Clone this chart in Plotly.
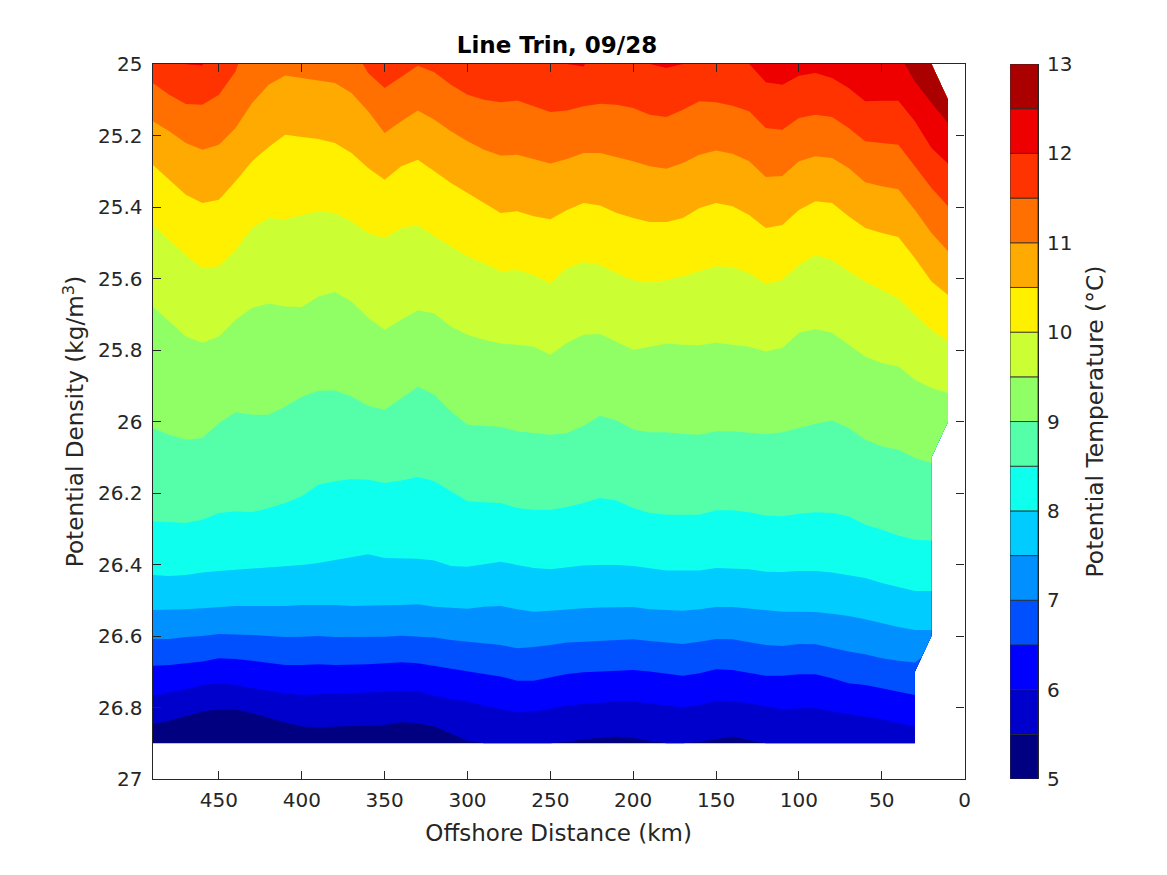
import plotly.graph_objects as go

# stations, km offshore
distance = [490, 480, 470, 460, 450, 440, 430, 420, 410, 400, 390, 380, 370, 360, 350, 340, 330,
            320, 310, 300, 290, 280, 270, 260, 250, 240, 230, 220, 210, 200, 190, 180, 170, 160,
            150, 140, 130, 120, 110, 100, 90, 80, 70, 60, 50, 40, 30, 20, 10]

# isotherm position (potential density) at each station, None = no data there
iso_55 = [26.847, 26.837, 26.824, 26.811, 26.805, 26.805, 26.816, 26.830, 26.842, 26.853, 26.856, 26.853, 26.851, 26.851, 26.849, 26.841, 26.844,
          26.853, 26.874, 26.893, 26.9, 26.9, 26.9, 26.9, 26.9, 26.896, 26.889, 26.885, 26.881, 26.885, 26.893, 26.9, 26.9, 26.896,
          26.889, 26.881, 26.891, 26.9, 26.9, 26.9, 26.9, 26.9, 26.9, 26.9, 26.9, 26.9, 26.9, None, None]
iso_60 = [26.767, 26.758, 26.749, 26.737, 26.732, 26.737, 26.746, 26.754, 26.760, 26.765, 26.763, 26.762, 26.760, 26.758, 26.755, 26.753, 26.755,
          26.767, 26.776, 26.783, 26.795, 26.805, 26.814, 26.811, 26.802, 26.795, 26.790, 26.786, 26.783, 26.783, 26.788, 26.795, 26.799, 26.793,
          26.782, 26.783, 26.788, 26.797, 26.805, 26.802, 26.802, 26.811, 26.819, 26.825, 26.833, 26.844, 26.853, None, None]
iso_65 = [26.683, 26.681, 26.676, 26.671, 26.662, 26.664, 26.669, 26.674, 26.681, 26.681, 26.679, 26.681, 26.681, 26.679, 26.676, 26.673, 26.676,
          26.684, 26.690, 26.698, 26.706, 26.713, 26.725, 26.725, 26.715, 26.706, 26.701, 26.699, 26.695, 26.695, 26.699, 26.706, 26.711, 26.704,
          26.693, 26.695, 26.702, 26.711, 26.711, 26.707, 26.707, 26.718, 26.732, 26.737, 26.746, 26.755, 26.765, None, None]
iso_70 = [26.608, 26.608, 26.603, 26.600, 26.594, 26.595, 26.597, 26.600, 26.603, 26.602, 26.600, 26.603, 26.603, 26.604, 26.602, 26.599, 26.601,
          26.604, 26.611, 26.616, 26.620, 26.625, 26.634, 26.631, 26.625, 26.618, 26.616, 26.614, 26.611, 26.609, 26.614, 26.618, 26.622, 26.616,
          26.608, 26.609, 26.617, 26.625, 26.628, 26.622, 26.623, 26.634, 26.643, 26.651, 26.662, 26.669, 26.674, None, None]
iso_75 = [26.527, 26.527, 26.525, 26.522, 26.518, 26.516, 26.516, 26.516, 26.516, 26.513, 26.513, 26.513, 26.516, 26.516, 26.514, 26.513, 26.511,
          26.518, 26.522, 26.524, 26.518, 26.516, 26.525, 26.532, 26.529, 26.525, 26.522, 26.520, 26.520, 26.519, 26.525, 26.527, 26.529, 26.525,
          26.519, 26.519, 26.524, 26.529, 26.532, 26.532, 26.533, 26.538, 26.544, 26.553, 26.564, 26.575, 26.583, 26.583, None]
iso_80 = [26.429, 26.432, 26.429, 26.422, 26.418, 26.415, 26.410, 26.407, 26.406, 26.401, 26.396, 26.387, 26.380, 26.371, 26.382, 26.384, 26.384,
          26.389, 26.404, 26.406, 26.399, 26.392, 26.401, 26.410, 26.413, 26.407, 26.403, 26.401, 26.401, 26.404, 26.410, 26.417, 26.417, 26.417,
          26.410, 26.412, 26.413, 26.420, 26.421, 26.418, 26.418, 26.422, 26.429, 26.438, 26.452, 26.463, 26.474, 26.474, None]
iso_85 = [26.279, 26.281, 26.284, 26.275, 26.256, 26.251, 26.254, 26.242, 26.228, 26.209, 26.177, 26.167, 26.161, 26.163, 26.172, 26.165, 26.155,
          26.167, 26.195, 26.223, 26.226, 26.228, 26.242, 26.247, 26.247, 26.239, 26.228, 26.214, 26.221, 26.242, 26.256, 26.261, 26.261, 26.261,
          26.248, 26.248, 26.254, 26.263, 26.265, 26.258, 26.254, 26.256, 26.265, 26.289, 26.303, 26.319, 26.331, 26.333, None]
iso_90 = [26.018, 26.037, 26.051, 26.046, 26.004, 25.974, 25.981, 25.981, 25.958, 25.931, 25.914, 25.913, 25.930, 25.956, 25.967, 25.934, 25.903,
          25.925, 25.972, 26.009, 26.012, 26.015, 26.027, 26.032, 26.037, 26.032, 26.012, 25.984, 25.997, 26.023, 26.030, 26.030, 26.035, 26.037,
          26.027, 26.027, 26.032, 26.035, 26.030, 26.018, 26.006, 25.997, 26.018, 26.051, 26.069, 26.079, 26.102, 26.116, None]
iso_95 = [25.678, 25.720, 25.762, 25.780, 25.762, 25.715, 25.682, 25.670, 25.678, 25.680, 25.650, 25.638, 25.664, 25.710, 25.743, 25.715, 25.689,
          25.698, 25.734, 25.757, 25.771, 25.782, 25.785, 25.791, 25.813, 25.780, 25.757, 25.755, 25.778, 25.799, 25.791, 25.782, 25.785, 25.787,
          25.780, 25.785, 25.791, 25.804, 25.794, 25.752, 25.741, 25.752, 25.785, 25.818, 25.836, 25.846, 25.883, 25.906, 25.920]
iso_100 = [25.450, 25.492, 25.534, 25.571, 25.566, 25.520, 25.459, 25.431, 25.434, 25.422, 25.412, 25.417, 25.440, 25.473, 25.487, 25.459, 25.451,
           25.482, 25.510, 25.538, 25.557, 25.580, 25.576, 25.590, 25.613, 25.571, 25.554, 25.562, 25.585, 25.604, 25.611, 25.604, 25.594, 25.580,
           25.566, 25.568, 25.585, 25.615, 25.604, 25.562, 25.535, 25.548, 25.580, 25.608, 25.632, 25.655, 25.701, 25.743, 25.776]
iso_105 = [25.282, 25.324, 25.366, 25.389, 25.380, 25.328, 25.272, 25.232, 25.198, 25.204, 25.210, 25.221, 25.249, 25.291, 25.324, 25.286, 25.268,
           25.300, 25.333, 25.361, 25.389, 25.417, 25.412, 25.426, 25.434, 25.408, 25.389, 25.396, 25.417, 25.431, 25.442, 25.442, 25.431, 25.403,
           25.389, 25.398, 25.422, 25.459, 25.450, 25.408, 25.384, 25.389, 25.426, 25.459, 25.473, 25.484, 25.543, 25.608, 25.646]
iso_110 = [25.160, 25.188, 25.221, 25.240, 25.226, 25.179, 25.109, 25.058, 25.032, 25.039, 25.046, 25.053, 25.081, 25.132, 25.193, 25.160, 25.130,
           25.156, 25.188, 25.216, 25.240, 25.256, 25.254, 25.265, 25.278, 25.266, 25.249, 25.249, 25.260, 25.272, 25.286, 25.293, 25.277, 25.254,
           25.242, 25.251, 25.272, 25.316, 25.313, 25.272, 25.258, 25.263, 25.291, 25.331, 25.342, 25.350, 25.408, 25.473, 25.524]
iso_115 = [25.053, 25.086, 25.112, 25.114, 25.086, 25.021, 24.895, 24.895, 24.895, 24.895, 24.895, 24.895, 24.946, 25.025, 25.067, 25.035, 25.005,
           25.023, 25.058, 25.086, 25.100, 25.107, 25.102, 25.118, 25.134, 25.130, 25.118, 25.111, 25.114, 25.123, 25.142, 25.148, 25.128, 25.104,
           25.107, 25.117, 25.132, 25.179, 25.184, 25.151, 25.142, 25.148, 25.179, 25.216, 25.221, 25.226, 25.286, 25.347, 25.398]
iso_120 = [24.93, 24.93, 25.001, 25.004, 24.93, 24.93, 24.93, 24.93, 24.93, 24.93, 24.93, 24.93, 24.93, 24.93, 24.93, 24.93, 24.93,
           24.93, 24.93, 24.93, 24.93, 24.93, 24.93, 24.93, 24.93, 25.0, 25.007, 24.93, 24.93, 24.93, 25.0, 25.011, 25.0, 24.93,
           24.93, 24.93, 25.0, 25.051, 25.058, 25.033, 25.025, 25.039, 25.067, 25.104, 25.103, 25.103, 25.160, 25.235, 25.279]
iso_125 = [None] * 45 + [24.970, 25.049, 25.109, 25.165]

levels = [5.5, 6, 6.5, 7, 7.5, 8, 8.5, 9, 9.5, 10, 10.5, 11, 11.5, 12, 12.5]
isotherms = [iso_55, iso_60, iso_65, iso_70, iso_75, iso_80, iso_85, iso_90,
             iso_95, iso_100, iso_105, iso_110, iso_115, iso_120, iso_125]

# outline of the sampled area on the coast side, from the bottom up, then back along the top
edge_km = [30, 26, 20, 20, 10, 10, 20, 490]
edge_density = [26.7, 26.66, 26.6, 26.1, 26.0, 25.1, 25.0, 25.0]

band_edges = [5, 5.5, 6, 6.5, 7, 7.5, 8, 8.5, 9, 9.5, 10, 10.5, 11, 11.5, 12, 12.5, 13]
band_colors = ["#000080", "#0000cc", "#0000ff", "#0050ff", "#0090ff", "#00ccff", "#0fffee", "#55ffaa",
               "#90ff66", "#ccff33", "#fff000", "#ffaa00", "#ff7000", "#ff3300", "#ee0000", "#aa0000"]

TEXT = "#262626"
FONT = "DejaVu Sans"

fig = go.Figure()

# whole sampled area in the coldest colour, warmer bands get painted on top
fig.add_trace(go.Scatter(x=[490, 30] + edge_km, y=[26.9, 26.9] + edge_density,
                         mode="lines", fill="toself", fillcolor=band_colors[0],
                         line=dict(width=0), hoverinfo="skip", showlegend=False))

for i, iso in enumerate(isotherms):
    xs = [d for d, v in zip(distance, iso) if v is not None]
    ys = [v for v in iso if v is not None]
    end = ys[-1]
    # close the polygon along the edge, only the part above the end of the isotherm
    for k, v in zip(edge_km, edge_density):
        if v < end:
            xs.append(k)
            ys.append(v)
    fig.add_trace(go.Scatter(x=xs, y=ys, mode="lines", fill="toself",
                             fillcolor=band_colors[i + 1], line=dict(width=0),
                             name=f"{levels[i]} °C", hoverinfo="skip", showlegend=False))

# colorbar, drawn as stacked bars on its own axes
fig.add_trace(go.Bar(x=[0] * 16,
                     y=[b - a for a, b in zip(band_edges[:-1], band_edges[1:])],
                     base=band_edges[:-1], width=1,
                     marker=dict(color=band_colors, line=dict(color=TEXT, width=0.8)),
                     xaxis="x2", yaxis="y2", hoverinfo="skip", showlegend=False))

fig.update_layout(
    width=1151,
    height=859,
    margin=dict(l=0, r=0, t=0, b=0, autoexpand=False),
    plot_bgcolor="white",
    paper_bgcolor="white",
    font=dict(family=FONT, size=20, color=TEXT),
    barmode="overlay",
    title=dict(text="<b>Line Trin, 09/28</b>", x=0.477, xanchor="center", y=0.957, yanchor="middle",
               font=dict(family=FONT, size=23, color="black")),
    xaxis=dict(domain=[0.1257, 0.8311], range=[490, 0], tick0=0, dtick=50,
               ticks="inside", ticklen=8, tickcolor=TEXT, showgrid=False, zeroline=False,
               showline=True, linecolor=TEXT, linewidth=1.3, mirror="allticks",
               ticklabelstandoff=3,
               title=dict(text="Offshore Distance (km)", font=dict(size=23), standoff=13)),
    yaxis=dict(domain=[0.1024, 0.9348], range=[27, 25], tick0=25, dtick=0.2,
               ticks="inside", ticklen=8, tickcolor=TEXT, showgrid=False, zeroline=False,
               showline=True, linecolor=TEXT, linewidth=1.3, mirror="allticks",
               ticklabelstandoff=5,
               title=dict(text="Potential Density (kg/m<sup>3</sup>)", font=dict(size=23.2), standoff=7)),
    xaxis2=dict(domain=[0.8706, 0.8949], range=[-0.5, 0.5], anchor="y2", visible=False),
    yaxis2=dict(domain=[0.1024, 0.9348], range=[5, 13], dtick=1, anchor="x2", side="right",
                ticks="", showgrid=False, zeroline=False,
                showline=True, linecolor=TEXT, linewidth=1.0,
                ticklabelstandoff=4,
                title=dict(text="Potential Temperature (°C)", font=dict(size=23.4), standoff=15)),
)

fig.write_html("out.html")
